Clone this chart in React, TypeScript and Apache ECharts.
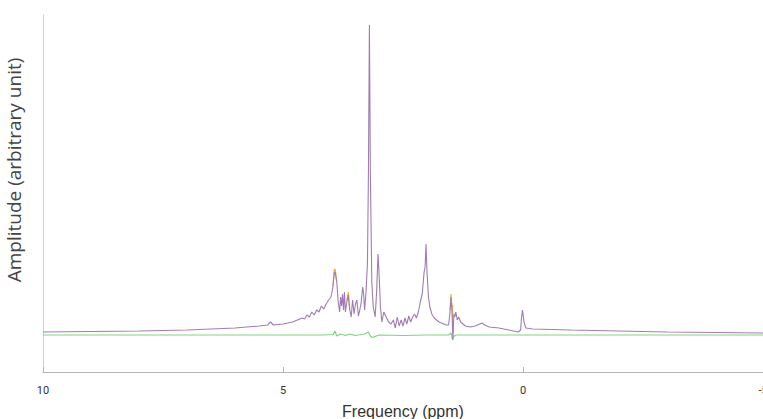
import React, { useEffect, useRef } from "react";
import * as echarts from "echarts";

// Frequency (ppm) and amplitude (arbitrary units)
const spectrumPpm = [
  10, 9, 8, 7, 6.5, 6, 5.5, 5.32, 5.26, 5.2, 5.0, 4.8, 4.7, 4.6, 4.55, 4.5, 4.45, 4.4, 4.35, 4.3, 4.25, 4.2, 4.15, 4.1,
  4.05, 4.0, 3.96, 3.93, 3.91, 3.88, 3.85, 3.82, 3.8, 3.78, 3.76, 3.74, 3.72, 3.7, 3.67, 3.64, 3.61, 3.58, 3.55, 3.52,
  3.49, 3.46, 3.43, 3.4, 3.37, 3.34, 3.32, 3.3, 3.27, 3.24, 3.22, 3.2, 3.18, 3.15, 3.12, 3.08, 3.05, 3.02, 3.0, 2.97,
  2.94, 2.9, 2.85, 2.8, 2.75, 2.7, 2.66, 2.62, 2.58, 2.54, 2.5, 2.46, 2.42, 2.38, 2.34, 2.3, 2.26, 2.22, 2.18, 2.14,
  2.1, 2.06, 2.04, 2.02, 2.0, 1.97, 1.94, 1.9, 1.85, 1.8, 1.75, 1.7, 1.65, 1.6, 1.55, 1.52, 1.5, 1.48, 1.46, 1.44,
  1.42, 1.4, 1.37, 1.34, 1.3, 1.25, 1.2, 1.1, 1.0, 0.9, 0.85, 0.8, 0.7, 0.5, 0.3, 0.1, 0.05, 0.03, 0.01, -0.02, -0.06,
  -0.2, -1, -2, -3, -4, -5,
];
const spectrumAmp = [
  40, 40.5, 41, 42, 43, 44, 46, 47, 50, 47, 48, 50, 52, 54, 53, 57, 55, 60, 57, 62, 60, 66, 63, 68,
  72, 75, 85, 100, 99, 90, 70, 60, 75, 66, 78, 62, 80, 60, 70, 77, 62, 55, 72, 58,
  68, 72, 56, 62, 70, 85, 78, 62, 80, 110, 200, 347, 200, 90, 65, 55, 80, 118, 100, 65,
  50, 60, 55, 50, 48, 52, 44, 55, 46, 52, 46, 54, 48, 56, 50, 55, 58, 54, 60, 70,
  78, 100, 105, 128, 100, 75, 65, 58, 54, 52, 50, 49, 48, 47, 47, 60, 75, 60, 32, 58,
  55, 60, 52, 55, 50, 48, 46, 45, 46, 48, 49, 47, 45, 44, 42, 40, 42, 55, 62, 50, 44,
  43, 42, 41, 40, 39.5, 39,
];

// Slightly higher fits visible at peak tips (orange)
const tipPpm = [3.96, 3.93, 3.91, 3.88, null, 3.67, 3.64, 3.61, null, 1.52, 1.5, 1.48, 1.47, 1.46];
const tipAmp = [86, 103, 102, 90, null, 71, 80, 63, null, 62, 78, 66, 67, 40];

// Residual (green)
const residualPpm = [10, 6, 4.2, 3.95, 3.92, 3.88, 3.8, 3.7, 3.6, 3.5, 3.3, 3.22, 3.18, 3.14, 3.0, 2.5, 2.0, 1.55, 1.5, 1.47, 1.44, 1.4, 1.0, 0, -5];
const residualAmp = [37, 37, 37, 37.5, 41, 36, 38, 36.5, 38, 36.5, 38, 40, 36, 34.5, 37, 36.5, 37, 37, 39, 33, 35.5, 37, 37, 37, 37];

const xTicks = [10, 5, 0, -5];

function pairs(xs: (number | null)[], ys: (number | null)[]) {
  return xs.map((x, i) => (x === null || ys[i] === null ? [null, null] : [x, ys[i]]));
}

export default function App() {
  const ref = useRef<HTMLDivElement>(null);
  useEffect(() => {
    if (!ref.current) return;
    const chart = echarts.init(ref.current, null, { renderer: "svg" });
    chart.setOption({
      animation: false,
      backgroundColor: "#ffffff",
      grid: { left: 43, right: 0, top: 15, bottom: 47, outerBoundsMode: "none", containLabel: false },
      xAxis: {
        type: "value",
        inverse: true,
        min: -5,
        max: 10,
        interval: 5,
        name: "Frequency (ppm)",
        nameLocation: "middle",
        nameGap: 31,
        nameTextStyle: { fontFamily: "Liberation Sans", fontSize: 16, color: "#333" },
        axisLine: { onZero: false, lineStyle: { color: "#b5b5b5", width: 1 } },
        axisTick: { inside: true, length: 5, lineStyle: { color: "#b5b5b5" } },
        axisLabel: {
          fontFamily: "Roboto",
          fontSize: 11,
          color: "#333",
          margin: 13,
          formatter: (v: number) => (xTicks.includes(v) ? String(v) : ""),
        },
        splitLine: { show: false },
      },
      yAxis: {
        type: "value",
        min: 0,
        max: 357,
        position: "left",
        axisLine: { show: true, onZero: false, lineStyle: { color: "#d0d0d0", width: 1 } },
        axisTick: { show: false },
        axisLabel: { show: false },
        splitLine: { show: false },
      },
      graphic: [
        {
          type: "text",
          x: 14,
          y: 170,
          rotation: Math.PI / 2,
          style: {
            text: "Amplitude (arbitrary unit)",
            fontFamily: "Open Sans",
            fontSize: 19,
            fill: "#444",
            textAlign: "center",
            textVerticalAlign: "middle",
          },
        },
      ],
      series: [
        {
          type: "line",
          data: pairs(residualPpm, residualAmp),
          showSymbol: false,
          lineStyle: { color: "#7fd67f", width: 1.2 },
        },
        {
          type: "line",
          data: pairs(tipPpm, tipAmp),
          showSymbol: false,
          connectNulls: false,
          lineStyle: { color: "#f0b040", width: 1.2 },
        },
        {
          type: "line",
          data: pairs(spectrumPpm, spectrumAmp),
          showSymbol: false,
          lineStyle: { color: "#a07cb4", width: 1.1 },
        },
      ],
    });
    return () => chart.dispose();
  }, []);
  return (
    <div
      ref={ref}
      style={{ position: "fixed", left: 0, top: 0, width: 763, height: 419 }}
    />
  );
}
